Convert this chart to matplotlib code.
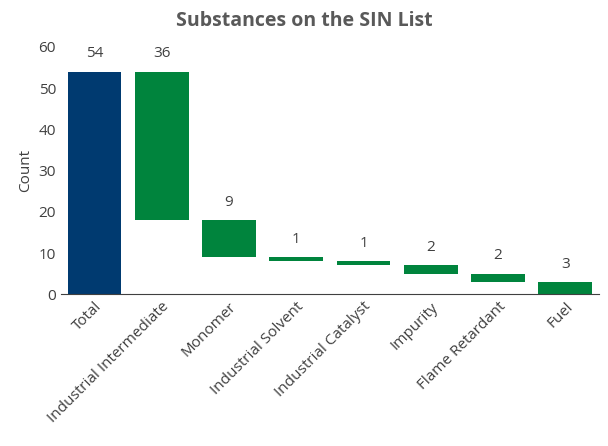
import matplotlib
matplotlib.use("Agg")
import matplotlib.pyplot as plt

categories = ["Total", "Industrial Intermediate", "Monomer", "Industrial Solvent",
              "Industrial Catalyst", "Impurity", "Flame Retardant", "Fuel"]
values = [54, 36, 9, 1, 1, 2, 2, 3]
yticks = [0, 10, 20, 30, 40, 50, 60]

plt.rcParams["font.family"] = "Open Sans"
fig = plt.figure(figsize=(6.08, 4.46), dpi=100)
ax = fig.add_axes([0.1, 0.34, 0.885, 0.555])

bottoms, colors = [], []
level = values[0]
for i, v in enumerate(values):
    if i == 0:
        bottoms.append(0); colors.append("#003a70")
    else:
        level -= v
        bottoms.append(level); colors.append("#00843d")
x = range(len(categories))
ax.bar(x, values, bottom=bottoms, color=colors, width=0.8)
for i, (v, b) in enumerate(zip(values, bottoms)):
    ax.text(i, b + v + 2.5, str(v), ha="center", va="bottom", fontsize=11, color="#404040")

ax.set_ylim(0, 60)
ax.set_xlim(-0.5, len(categories) - 0.5)
ax.set_yticks(yticks)
ax.set_xticks(list(x))
ax.set_xticklabels(categories, rotation=45, ha="right", rotation_mode="anchor", fontsize=11, color="#404040")
ax.tick_params(axis="y", labelsize=11, colors="#404040", length=0)
ax.tick_params(axis="x", length=0)
for s in ["top", "right", "left"]:
    ax.spines[s].set_visible(False)
ax.spines["bottom"].set_color("#404040")
ax.set_ylabel("Count", fontsize=11, color="#404040")
fig.suptitle("Substances on the SIN List", x=0.5, y=0.975, fontsize=14, fontweight="bold", color="#595959")
fig.savefig("out.png", dpi=100)
